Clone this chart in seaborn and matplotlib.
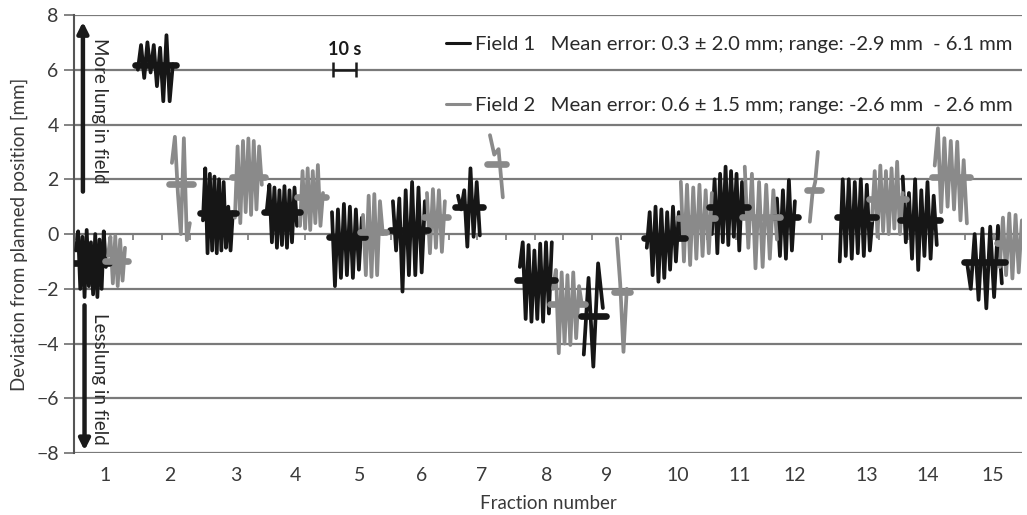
import numpy as np
import pandas as pd
import matplotlib
matplotlib.use("Agg")
import matplotlib.pyplot as plt
from matplotlib.lines import Line2D
import seaborn as sns

# ---------------- data (time axis in seconds, deviation in mm) ----------------
fractions = [str(i) for i in range(1, 16)]
fraction_tick_s = [13.5, 41.7, 70.4, 96.1, 124.3, 151.2, 177.3, 205.5,
                   231.6, 262.7, 289.3, 313.5, 344.7, 371.4, 399.7]

field1_start = [0.9, 27.8, 56.1, 83.9, 112.2, 138.7, 167.0, 193.9, 221.7, 249.1, 277.4, 305.7, 333.0, 360.4, 388.3]
field1_end = [13.9, 43.0, 69.1, 97.0, 125.2, 152.6, 176.5, 207.8, 230.0, 264.3, 291.7, 313.5, 347.4, 375.2, 403.5]
field1_mean = [-1.07, 6.17, 0.78, 0.81, -0.10, 0.15, 0.97, -1.68, -2.99, -0.16, 1.00, 0.61, 0.63, 0.53, -1.03]
field1_trace = [
    [-0.6, 0.1, -2.0, -0.1, -2.3, 0.15, -1.9, -0.3, -2.2, 0.0, -2.3, -0.2, -2.0, 0.1, -1.2],
    [6.0, 6.9, 5.7, 7.0, 5.9, 6.9, 5.4, 6.8, 4.85, 7.26, 4.85, 6.2],
    [0.5, 2.4, -0.7, 2.2, -0.6, 2.1, -0.7, 2.0, -0.6, 1.9, -0.5, 1.0, -0.6, 0.8],
    [0.9, 1.8, -0.3, 1.7, -0.5, 1.6, -0.4, 1.75, -0.5, 1.6, -0.3, 1.7, 0.3],
    [0.8, -1.9, 0.9, -1.6, 1.1, -1.5, 1.0, -1.6, 0.9, -1.3, 0.6],
    [1.2, -0.6, 1.3, -2.1, 1.6, -1.5, 1.9, -1.5, 1.7, -1.4, 1.2],
    [1.4, 0.9, 1.6, -0.46, 2.4, -0.1, 1.9, -0.05],
    [-1.2, -0.3, -3.1, -0.4, -3.2, -0.6, -3.1, -0.35, -3.2, -0.3, -2.9, -0.3],
    [-4.4, -1.6, -4.84, -1.07, -2.7],
    [-0.5, 0.8, -1.5, 1.0, -1.74, 0.9, -1.6, 0.8, -1.3, 1.0, -1.0, 0.8, -0.2],
    [0.0, 2.0, -0.7, 2.2, -0.3, 2.46, -0.4, 2.3, -0.1, 2.2, -0.6, 1.9, 0.6],
    [1.3, -0.8, 1.6, -0.9, 1.97, -0.6, 1.2],
    [-1.0, 2.0, -0.8, 2.0, -0.9, 1.9, -0.7, 2.0, -0.8, 1.8, -0.6, 0.7],
    [2.1, -0.3, 1.5, -0.9, 2.0, -1.31, 1.6, -0.8, 1.9, -0.9, 1.4, -0.4],
    [-1.0, -2.0, 0.0, -2.4, 0.2, -2.71, 0.27, -2.3, 0.3, -1.8],
]

field2_start = [14.8, 42.6, 70.0, 98.3, 125.7, 153.5, 180.9, 208.3, 236.1, 263.9, 291.7, 320.0, 347.0, 374.3, 402.6]
field2_end = [22.2, 50.4, 81.7, 108.3, 134.3, 161.3, 186.5, 220.9, 240.4, 277.4, 305.7, 323.5, 360.4, 388.3, 412.2]
field2_mean = [-0.97, 1.81, 2.07, 1.34, 0.08, 0.63, 2.55, -2.55, -2.10, 0.57, 0.63, 1.61, 1.27, 2.07, -0.34]
field2_trace = [
    [-0.8, -0.1, -1.8, -0.07, -1.9, -0.2, -1.7, -0.5],
    [2.6, 3.55, 1.5, 0.0, 3.5, -0.22, 0.4],
    [0.6, 3.2, 0.4, 3.4, 0.8, 3.49, 0.7, 3.4, 0.9, 3.2, 1.8],
    [0.3, 2.3, 0.2, 2.4, 0.15, 2.3, 0.4, 2.52, 0.3, 1.5],
    [0.7, -1.5, 1.4, -1.56, 1.46, -1.5, 1.2, 0.0],
    [1.5, -0.7, 1.64, -0.5, 1.6, -0.65, 1.2],
    [3.61, 2.9, 3.1, 1.34],
    [-2.0, -1.31, -4.35, -1.4, -4.0, -1.5, -4.05, -1.4, -3.8, -1.9, -2.6],
    [-0.16, -1.8, -4.3, -2.0],
    [1.91, -1.0, 1.8, -1.13, 1.7, -0.9, 1.8, -0.8, 1.6, -0.7, 1.5],
    [2.46, -0.5, 2.2, -1.25, 1.9, -1.2, 1.8, -0.9, 1.6, -0.2],
    [0.45, 1.5, 1.9, 3.0],
    [0.5, 2.3, -0.1, 2.5, 0.1, 2.3, 0.0, 2.4, 0.2, 2.64, 0.0, 1.5],
    [2.5, 3.86, 0.8, 3.5, 1.0, 3.4, 0.9, 3.37, 0.5, 2.7, 0.39],
    [-1.2, 0.6, -1.5, 0.75, -1.62, 0.7, -1.4, 0.5],
]

legend_labels = [
    "Field 1   Mean error: 0.3 \u00b1 2.0 mm; range: -2.9 mm  - 6.1 mm",
    "Field 2   Mean error: 0.6 \u00b1 1.5 mm; range: -2.6 mm  - 2.6 mm",
]

# ---------------- build tables ----------------
colors = {"Field 1": "#161616", "Field 2": "#8a8a8a"}
rows, bars = [], []
for field, starts, ends, means, traces in [
        ("Field 1", field1_start, field1_end, field1_mean, field1_trace),
        ("Field 2", field2_start, field2_end, field2_mean, field2_trace)]:
    for i, (s, e, m, tr) in enumerate(zip(starts, ends, means, traces)):
        seg = f"{field}-{i}"
        for t, v in zip(np.linspace(s, e, len(tr)), tr):
            rows.append({"t": t, "dev": v, "field": field, "seg": seg})
        pad = 1.3
        bars.append({"t": s - pad, "dev": m, "field": field, "seg": seg})
        bars.append({"t": e + pad, "dev": m, "field": field, "seg": seg})
trace_df = pd.DataFrame(rows)
bar_df = pd.DataFrame(bars)

# ---------------- plot ----------------
sns.set_style("white")
plt.rcParams["font.family"] = ["Lato", "DejaVu Sans"]
plt.rcParams["axes.unicode_minus"] = True

fig = plt.figure(figsize=(10.27, 5.15), dpi=100)
ax = fig.add_axes([0.072, 0.12, 0.923, 0.851])

grid_c = "#7a7a7a"
for yv in range(-8, 9, 2):
    ax.axhline(yv, color=grid_c, lw=1.6, zorder=0)

sns.lineplot(data=trace_df, x="t", y="dev", hue="field", units="seg",
             estimator=None, sort=False, palette=colors, linewidth=2.7,
             legend=False, ax=ax, zorder=3)
sns.lineplot(data=bar_df, x="t", y="dev", hue="field", units="seg",
             estimator=None, sort=False, palette=colors, linewidth=4.8,
             legend=False, ax=ax, zorder=4)

# small ticks along the zero line
minor_ticks = np.arange(0.7, 412, 12.48)
ax.vlines(minor_ticks, -0.22, 0, color=grid_c, lw=1.2, zorder=1)

ax.set_xlim(0, 412.2)
ax.set_ylim(-8, 8)
ax.set_yticks(range(-8, 9, 2))
ax.set_xticks(fraction_tick_s)
ax.set_xticklabels(fractions)
ax.tick_params(axis="x", length=0, pad=10, labelsize=14, colors="#3a3a3a")
ax.tick_params(axis="y", length=7, width=1.3, color=grid_c, direction="out",
               pad=4, labelsize=14, labelcolor="#3a3a3a", left=True)
for side in ["top", "right", "bottom"]:
    ax.spines[side].set_visible(False)
ax.spines["left"].set_color("#555555")
ax.spines["left"].set_linewidth(1.5)

ax.set_xlabel("Fraction number", fontsize=13.5, color="#3a3a3a", labelpad=8)
ax.set_ylabel("Deviation from planned position [mm]", fontsize=13.5,
              color="#3a3a3a", labelpad=6)

# arrows & annotation text
ax.annotate("", xy=(3.9, 7.75), xytext=(3.9, 1.55),
            arrowprops=dict(arrowstyle="-|>", lw=3.2, color="#1a1a1a",
                            mutation_scale=16, shrinkA=0, shrinkB=0), zorder=5)
ax.annotate("", xy=(4.6, -7.9), xytext=(4.6, -2.6),
            arrowprops=dict(arrowstyle="-|>", lw=3.2, color="#1a1a1a",
                            mutation_scale=16, shrinkA=0, shrinkB=0), zorder=5)
ax.text(11.0, 4.5, "More lung in field", rotation=-90, ha="center", va="center",
        fontsize=13.5, color="#2a2a2a", zorder=6)
ax.text(11.0, -5.3, "Lesslung in field", rotation=-90, ha="center", va="center",
        fontsize=13.5, color="#2a2a2a", zorder=6)

# 10 s scale bar
sb_x0, sb_len, sb_y = 112.6, 10.0, 6.0
ax.hlines(sb_y, sb_x0, sb_x0 + sb_len, color="#1a1a1a", lw=1.8)
ax.vlines([sb_x0, sb_x0 + sb_len], sb_y - 0.28, sb_y + 0.28, color="#1a1a1a", lw=1.8)
ax.text(sb_x0 + sb_len / 2, 6.75, "10 s", ha="center", va="center",
        fontsize=13, fontweight="bold", color="#1a1a1a")

handles = [Line2D([0], [0], color=colors["Field 1"], lw=2.2),
           Line2D([0], [0], color=colors["Field 2"], lw=2.2)]
ax.legend(handles, legend_labels, loc="upper right", bbox_to_anchor=(1.003, 0.98),
          frameon=False, fontsize=14.6, handlelength=1.2, handletextpad=0.25,
          labelspacing=2.15, labelcolor="#2a2a2a", borderaxespad=0.2)

fig.savefig("out.png", dpi=100, facecolor="white")
